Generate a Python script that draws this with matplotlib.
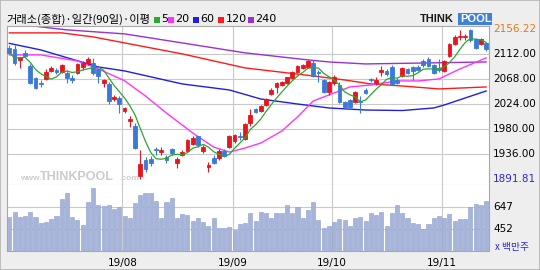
import numpy as np
import pandas as pd
import matplotlib
matplotlib.use('Agg')
import matplotlib.pyplot as plt
from matplotlib.patches import Rectangle
from matplotlib.transforms import blended_transform_factory

W, H = 540, 270

# KOSPI daily candles, 2019-07-02 .. 2019-11-13
opens = [2122, 2121, 2101, 2114, 2091, 2070, 2061, 2068, 2082, 2083,
         2080, 2079, 2069, 2078, 2090, 2096, 2096, 2086, 2061, 2059,
         2033, 2035, 2012, 1994, 1985, 1897, 1925, 1928, 1944.5, 1940,
         1930, 1945, 1920, 1935, 1941, 1954, 1967, 1941, 1913, 1928.8,
         1929, 1942, 1948, 1959, 1968, 1962, 1991, 2015, 2012, 2022,
         2041, 2054, 2058, 2061, 2070, 2080, 2087, 2089, 2097, 2080,
         2066, 2045, 2061, 2058, 2028, 2031, 2028, 2030, 2049, 2068,
         2061, 2080, 2082, 2089, 2066, 2073, 2086, 2089, 2089, 2100,
         2103, 2092, 2087, 2082, 2109, 2130, 2142, 2142, 2154, 2139,
         2130, 2132]
highs = [2128, 2128, 2107, 2119, 2094, 2072, 2066, 2086, 2091, 2088,
         2094, 2084, 2075, 2096, 2099, 2107, 2105, 2088, 2068, 2062,
         2040, 2038, 2019, 2003, 1990, 1943, 1930, 1932, 1949, 1948,
         1934, 1947, 1930, 1943, 1962, 1967, 1968, 1952, 1922, 1935,
         1944, 1945, 1970, 1972, 1975, 1990, 2015, 2017, 2022, 2034,
         2052, 2063, 2064, 2072, 2082, 2093, 2095, 2102, 2101, 2084,
         2068, 2065, 2075, 2062, 2030, 2033, 2047, 2038, 2052, 2070,
         2071, 2091, 2085, 2092, 2069, 2090, 2088, 2091, 2092, 2104,
         2107, 2095, 2103, 2102, 2132, 2145, 2154, 2148, 2156.22, 2141,
         2141, 2134]
lows = [2112, 2092, 2087, 2107, 2059, 2050, 2054, 2066, 2080, 2077,
        2078, 2061, 2061, 2076, 2084, 2093, 2075, 2061, 2054, 2024,
        2029, 2008, 2008, 1984, 1944, 1891.81, 1904, 1915, 1935, 1935,
        1921, 1935, 1912, 1932, 1939, 1951, 1948, 1938, 1905, 1918,
        1926, 1930, 1946, 1956, 1960, 1960, 1985, 2008, 2010, 2020,
        2039, 2043, 2056, 2059, 2068, 2078, 2085, 2087, 2071, 2063,
        2043, 2040, 2058, 2026, 2016, 2015, 2025, 2008, 2041, 2063,
        2058, 2073, 2074, 2057, 2059, 2071, 2076, 2066, 2082, 2090,
        2089, 2076, 2080, 2080, 2106, 2127, 2137, 2137, 2133, 2120,
        2127, 2118]
closes = [2114, 2096, 2106, 2109, 2061, 2052, 2059, 2080, 2087, 2081,
          2092, 2070, 2067, 2094, 2096, 2103, 2079, 2073, 2066, 2029,
          2036, 2024.6, 2017.3, 1998.1, 1947, 1917.5, 1909.7, 1920.6, 1943.7, 1942.3,
          1925.8, 1938.4, 1927.2, 1939.9, 1960.3, 1964.7, 1951.2, 1948.3, 1916.3, 1920,
          1941, 1932, 1967.8, 1969.2, 1965.7, 1988.5, 2004.8, 2009.1, 2019.6, 2032.4,
          2049.2, 2061.3, 2062.3, 2070.7, 2080.2, 2091.5, 2093, 2100, 2074, 2078,
          2045, 2063, 2072, 2028, 2019, 2019, 2045, 2028, 2044, 2067,
          2066, 2084, 2076, 2060, 2061, 2088, 2079, 2082, 2084, 2093,
          2091, 2079, 2083.5, 2100.2, 2130.2, 2142.6, 2144.2, 2144, 2136, 2123,
          2138, 2121]
volumes = [557, 601, 557, 563, 601, 557, 498, 512, 533, 563,
           710, 763, 557, 527, 480, 684, 815, 660, 651, 660,
           628, 645, 563, 545, 675, 749, 763, 769, 695, 542,
           690, 719, 542, 580, 571, 518, 548, 512, 477, 542,
           453, 453, 462, 438, 489, 498, 586, 518, 601, 592,
           542, 586, 592, 660, 586, 645, 542, 616, 684, 527,
           453, 477, 512, 533, 527, 477, 548, 557, 518, 592,
           571, 601, 474, 592, 660, 592, 542, 498, 489, 444,
           492, 542, 563, 542, 580, 521, 533, 533, 645, 669,
           660, 695]

# longer moving averages (day index, value)
ma20_days = [0, 6, 13, 17, 22, 26, 30, 35, 39, 42, 45, 48, 52, 55, 58, 62, 65, 69, 74, 78, 82, 86, 91]
ma20_vals = [2110.4, 2110.4, 2099.8, 2085.7, 2065.0, 2038.0, 2008.0, 1973.0, 1948.2, 1939.4, 1946.5,
             1955.3, 1976.4, 2001.1, 2029.3, 2043.4, 2054.0, 2057.5, 2064.6, 2064.6, 2068.1, 2085.7, 2105.1]
ma60_days = [0, 6, 17, 22, 33, 42, 48, 55, 61, 68, 75, 81, 83, 91]
ma60_vals = [2130.7, 2119.2, 2089.2, 2082.2, 2059.3, 2048.7, 2032.8, 2024.0, 2017.0, 2013.4,
             2012.5, 2017.0, 2022.2, 2046.9]
ma120_days = [0, 10, 16, 22, 33, 45, 58, 64, 69, 75, 82, 91]
ma120_vals = [2149.2, 2149.2, 2142.1, 2131.5, 2112.2, 2087.5, 2073.4, 2066.3, 2059.3, 2055.7, 2050.5, 2054.0]
ma240_days = [0, 11, 22, 33, 45, 57, 61, 68, 80, 91]
ma240_vals = [2166.0, 2154.5, 2147.4, 2131.5, 2114.0, 2101.6, 2098.0, 2094.5, 2096.3, 2098.0]

month_days = [22, 43, 62, 83]
month_labels = ['19/08', '19/09', '19/10', '19/11']
price_ticks = [2112, 2068, 2024, 1980, 1936]
price_max, price_min = 2156.22, 1891.81
vol_ticks = [647, 452]

RED = '#e8141e'
BLUE = '#3a7ad6'
MA_COLORS = {'5': '#2ca82c', '20': '#ff33ff', '60': '#1f1fe0', '120': '#ff1a1a', '240': '#9b30d0'}
GRID = '#c9c9c9'
FRAME = '#a8a8a8'

plt.rcParams['font.family'] = ['Noto Sans CJK KR', 'DejaVu Sans']


def px(x, y):
    return x / W, 1 - y / H


fig = plt.figure(figsize=(W / 100, H / 100), dpi=100)
fig.patch.set_facecolor('#eeeeee')

ax = fig.add_axes([7 / W, 1 - 185 / H, 482 / W, 159 / H])
vax = fig.add_axes([7 / W, 1 - 251 / H, 482 / W, 66 / H], sharex=ax)

idx = np.arange(len(closes))
o = np.array(opens)
c = np.array(closes)
colors = np.where(c >= o, RED, BLUE)

# watermark
tw = blended_transform_factory(fig.transFigure, ax.transData)
fig.text(20 / W, 1886, 'www.', fontsize=6, color='#cdcdcd', family='Liberation Sans',
         fontweight='bold', va='bottom', transform=tw, zorder=0.5)
fig.text(40 / W, 1885, 'THINKPOOL', fontsize=9, color='#cbcbcb', family='Liberation Sans',
         fontweight='bold', va='bottom', transform=tw, zorder=0.5)
fig.text(119 / W, 1886, '.com', fontsize=6, color='#cdcdcd', family='Liberation Sans',
         fontweight='bold', va='bottom', transform=tw, zorder=0.5)

# moving averages
ax.plot(ma240_days, ma240_vals, color=MA_COLORS['240'], lw=1.0, zorder=2)
ax.plot(ma120_days, ma120_vals, color=MA_COLORS['120'], lw=1.0, zorder=2)
ax.plot(ma60_days, ma60_vals, color=MA_COLORS['60'], lw=1.0, zorder=2)
ax.plot(ma20_days, ma20_vals, color=MA_COLORS['20'], lw=1.0, zorder=2)
ma5 = pd.Series(closes).rolling(5, min_periods=1).mean()
ax.plot(idx, ma5, color=MA_COLORS['5'], lw=0.9, zorder=4)

# candles
ax.vlines(idx, lows, highs, colors=colors, lw=0.8, zorder=3)
ax.bar(idx, np.abs(c - o), bottom=np.minimum(o, c), width=0.72, color=colors,
       edgecolor=colors, lw=0.6, zorder=3)

ax.set_xlim(-0.44, 91.55)
ax.set_ylim(1881.4, 2161.3)
ax.set_yticks(price_ticks)
ax.set_xticks([d - 0.4 for d in month_days])
ax.grid(True, color=GRID, lw=0.8)
ax.set_axisbelow(True)
ax.tick_params(length=0, labelleft=False, labelbottom=False)
for s in ax.spines.values():
    s.set_color(FRAME)
    s.set_linewidth(0.8)

# volume
vax.bar(idx, volumes, width=0.78, color='#a6b4da', edgecolor='#8e9ecb', lw=0.4, zorder=3)
vax.set_ylim(252.6, 837.6)
vax.set_yticks(vol_ticks)
vax.grid(True, color=GRID, lw=0.8)
vax.set_axisbelow(True)
vax.set_xticks([d - 0.4 for d in month_days])
vax.set_xticklabels(month_labels, fontsize=7.5, family='DejaVu Sans')
vax.tick_params(axis='x', length=0, pad=5)
vax.tick_params(axis='y', length=0, labelleft=False)
vax.spines['top'].set_visible(False)
for s in ['left', 'right', 'bottom']:
    vax.spines[s].set_color(FRAME)
    vax.spines[s].set_linewidth(0.8)

# right-side value labels
tp = blended_transform_factory(fig.transFigure, ax.transData)
tv = blended_transform_factory(fig.transFigure, vax.transData)
lx = 493 / W
fig.text(lx, price_max, f'{price_max:.2f}', transform=tp, va='center', fontsize=7.5,
         color='#e07a1c', family='DejaVu Sans')
for t in price_ticks:
    fig.text(lx, t, f'{t:.2f}', transform=tp, va='center', fontsize=7.5, family='DejaVu Sans')
fig.text(lx, price_min, f'{price_min:.2f}', transform=tp, va='center', fontsize=7.5,
         color='#2a2ad0', family='DejaVu Sans')
for t in vol_ticks:
    fig.text(lx, t, f'{t}', transform=tv, va='center', fontsize=7.5, family='DejaVu Sans')
fig.text(*px(495, 247), 'x 백만주', va='center', fontsize=7, color='#2a2ad0')

# legend line
fig.text(*px(6, 19), '거래소(종합)·일간(90일)·이평', va='center', fontsize=8.1)
legend_items = [('5', 154), ('20', 168), ('60', 193), ('120', 218), ('240', 248)]
for name, x0 in legend_items:
    fig.add_artist(Rectangle(px(x0, 23), 6 / W, 6 / H, transform=fig.transFigure,
                             color=MA_COLORS[name], lw=0))
    fig.text(*px(x0 + 7.5, 19), name, va='center', fontsize=8, family='DejaVu Sans')

# logo
fig.text(*px(420, 19), 'THINK', va='center', fontsize=8, fontweight='bold',
         family='Liberation Sans', color='#1a1a1a')
fig.add_artist(Rectangle(px(458, 25), 34 / W, 12 / H, transform=fig.transFigure,
                         color='#3f80d8', lw=0))
fig.text(*px(460, 19), 'POOL', va='center', fontsize=8, fontweight='bold',
         family='Liberation Sans', color='white')

fig.add_artist(Rectangle((0, 0), 1, 1, transform=fig.transFigure, fill=False,
                         ec='#b4b4b4', lw=1.2))

fig.savefig('out.png', dpi=100, facecolor=fig.get_facecolor())
